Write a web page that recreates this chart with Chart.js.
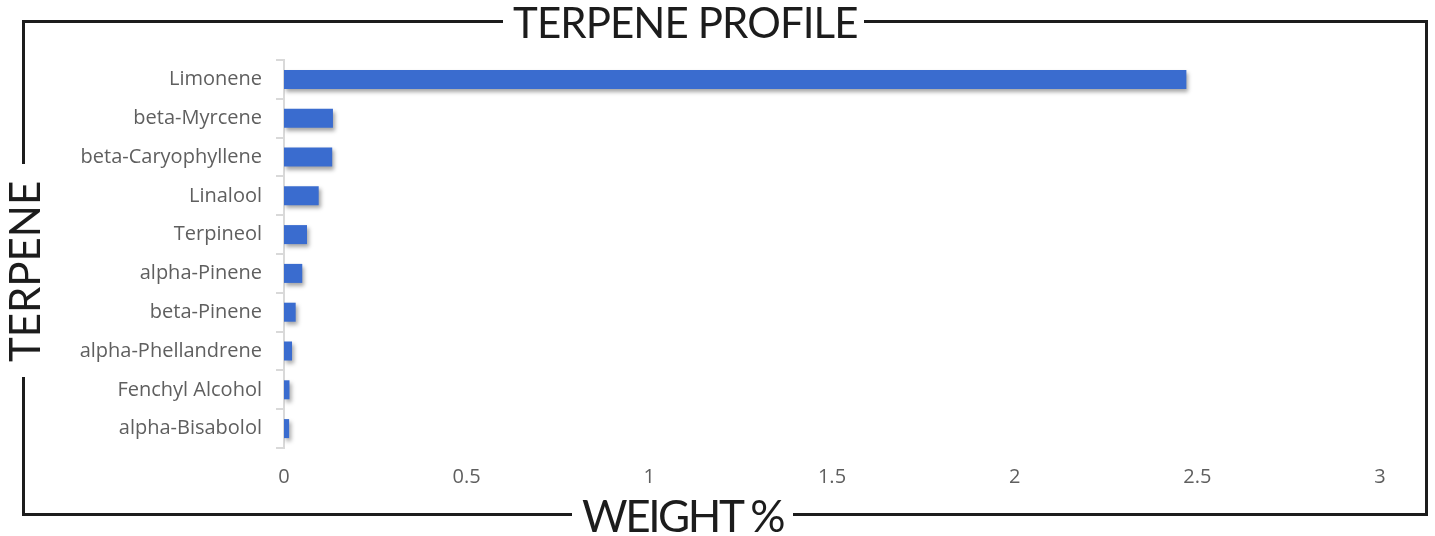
<!DOCTYPE html>
<html>
<head>
<meta charset="utf-8">
<title>Terpene Profile</title>
<script src="https://cdn.jsdelivr.net/npm/chart.js@4.4.1/dist/chart.umd.min.js"></script>
<style>
  html, body { margin: 0; padding: 0; background: #fff; }
  #wrap { position: relative; width: 1435px; height: 536px; overflow: hidden; }
  #frame {
    position: absolute; left: 22px; top: 20px; width: 1406px; height: 496px;
    border: 3px solid #1c1c1c; box-sizing: border-box;
  }
  .lbl {
    position: absolute; background: #fff; color: #1c1c1c;
    font-family: Lato, "Open Sans", sans-serif; white-space: nowrap;
  }
  #title { left: 503px; top: 1px; font-size: 42px; line-height: 42px; padding: 0 6px 0 10px; letter-spacing: -0.9px; }
  #xTitle { left: 572px; top: 493px; font-size: 44px; line-height: 44px; padding: 0 10px; letter-spacing: -2.4px; }
  #yTitle {
    left: 0; top: 0; font-size: 42px; line-height: 42px; padding: 0 17px 0 15px;
    transform-origin: 0 0; transform: translate(3px, 377px) rotate(-90deg);
  }
  #chartBox { position: absolute; left: 0; top: 0; width: 1435px; height: 536px; }
</style>
</head>
<body>
<div id="wrap">
  <div id="frame"></div>
  <div id="chartBox"><canvas id="terpeneChart"></canvas></div>
  <span class="lbl" id="title">TERPENE PROFILE</span>
  <span class="lbl" id="xTitle">WEIGHT %</span>
  <span class="lbl" id="yTitle">TERPENE</span>
</div>
<script>
// data
const terpenes = ['Limonene', 'beta-Myrcene', 'beta-Caryophyllene', 'Linalool', 'Terpineol',
                  'alpha-Pinene', 'beta-Pinene', 'alpha-Phellandrene', 'Fenchyl Alcohol', 'alpha-Bisabolol'];
const weights = [2.47, 0.134, 0.132, 0.095, 0.063, 0.050, 0.032, 0.022, 0.015, 0.014];
const xMin = 0;
const xMax = 3;
const xStep = 0.5;

const tickFont = { family: '"Open Sans", sans-serif', size: 20 };
const tickColor = '#5f5f5f';

// soft drop shadow under the bars
const barShadow = {
    id: 'barShadow',
    beforeDatasetsDraw(chart) {
        const ctx = chart.ctx;
        ctx.save();
        ctx.shadowColor = 'rgba(0,0,0,0.35)';
        ctx.shadowBlur = 4;
        ctx.shadowOffsetX = 2;
        ctx.shadowOffsetY = 3;
    },
    afterDatasetsDraw(chart) {
        chart.ctx.restore();
    }
};

new Chart(document.getElementById('terpeneChart'), {
    type: 'bar',
    data: {
        labels: terpenes,
        datasets: [{
            data: weights,
            backgroundColor: '#3a6ccf',
            borderWidth: 0,
            barPercentage: 0.49,
            categoryPercentage: 1
        }]
    },
    options: {
        indexAxis: 'y',
        responsive: true,
        maintainAspectRatio: false,
        animation: false,
        layout: { padding: { top: 60, right: 55, left: 0, bottom: 0 } },
        scales: {
            y: {
                afterFit(scale) { scale.width = 284; },
                grid: { drawOnChartArea: false, drawTicks: true, tickLength: 8, color: '#d9d9d9', lineWidth: 2 },
                border: { color: '#d9d9d9', width: 2 },
                ticks: { font: tickFont, color: tickColor, padding: 14 }
            },
            x: {
                min: xMin,
                max: xMax,
                afterFit(scale) { scale.height = 88; },
                grid: { display: false, drawTicks: false },
                border: { display: false },
                ticks: {
                    stepSize: xStep, font: tickFont, color: tickColor, padding: 17,
                    callback: v => String(v)
                }
            }
        },
        plugins: {
            legend: { display: false },
            tooltip: { enabled: true }
        }
    },
    plugins: [barShadow]
});
</script>
</body>
</html>
